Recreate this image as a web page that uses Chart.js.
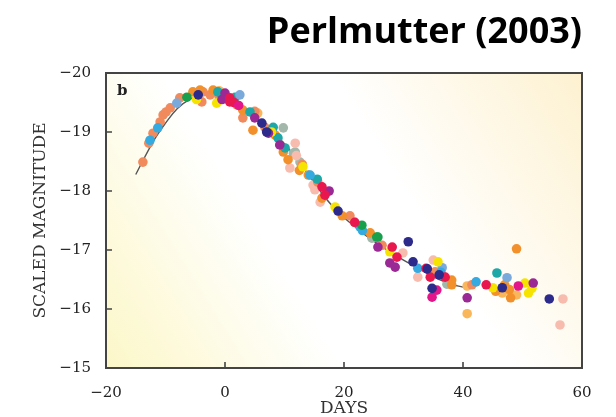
<!DOCTYPE html>
<html>
<head>
<meta charset="utf-8">
<script src="https://cdn.jsdelivr.net/npm/chart.js@4/dist/chart.umd.min.js"></script>
<style>
  html, body { margin: 0; padding: 0; background: #fff; }
  #wrap { width: 616px; height: 417px; }
</style>
</head>
<body>
<div id="wrap"><canvas id="c" width="616" height="417"></canvas></div>
<script>
// ── Данные ──────────────────────────────────────────────────────────────
const xTicks = [-20, 0, 20, 40, 60];
const yTicks = [-20, -19, -18, -17, -16, -15];

// шаблонная кривая блеска
const curveDays = [-15, -12, -10, -8, -6, -4, -2, 0, 2, 4, 6, 8, 10, 12, 14, 16, 18, 20, 22, 24, 26, 28, 30, 32, 34, 36, 38, 40];
const curveMags = [-18.28, -18.85, -19.15, -19.4, -19.55, -19.62, -19.62, -19.55, -19.45, -19.32, -19.17, -19.0, -18.8, -18.55, -18.28, -18.0, -17.75, -17.55, -17.38, -17.22, -17.08, -16.95, -16.83, -16.72, -16.6, -16.5, -16.42, -16.37];

// точки сверхновых, сгруппированы по цвету: [день, звёздная величина]
const salmonPts = [[-13.8, -18.49], [-12.8, -18.81], [-12.1, -18.98], [-10.9, -19.17], [-10.4, -19.29], [-9.9, -19.34], [-9.2, -19.41], [-7.6, -19.58], [-3.9, -19.51], [-2.5, -19.63], [-3.7, -19.68], [2, -19.46], [3, -19.24], [6.7, -19.08], [13, -18.45], [15.6, -18.15], [21, -17.58], [21.8, -17.47], [26.4, -17.08], [35.3, -16.63], [41.5, -16.41], [-1, -19.6], [1, -19.55], [5, -19.35]];
const orangePts = [[-5.4, -19.68], [-4.2, -19.71], [-2, -19.71], [3, -19.37], [4.7, -19.03], [8.4, -18.95], [9.8, -18.66], [10.6, -18.53], [12.5, -18.35], [14, -18.27], [16.3, -17.88], [19.7, -17.58], [24.4, -17.29], [38.1, -16.49], [38.1, -16.41], [47, -16.41], [47.8, -16.33], [48, -16.19], [49, -17.02], [45.5, -16.3]];
const lightOrangePts = [[5.5, -19.32], [40.7, -15.92], [40.7, -16.39], [46.6, -16.27], [49, -16.24], [-1, -19.7]];
const lightPinkPts = [[11.8, -18.81], [10.9, -18.39], [14.8, -18.1], [15.1, -18.02], [16, -17.81], [29.9, -16.95], [35, -16.83], [32.4, -16.54], [56.8, -16.17], [56.3, -15.73], [12, -18.6]];
const tealPts = [[-1.2, -19.68], [1.7, -19.59], [4.2, -19.34], [8.1, -19.08], [8.9, -18.9], [10.1, -18.73], [15.5, -18.2], [45.7, -16.61], [-0.5, -19.62]];
const navyPts = [[-4.5, -19.63], [6.2, -19.15], [19, -17.66], [30.8, -17.14], [31.6, -16.8], [34, -16.68], [34.8, -16.35], [36, -16.58], [46.6, -16.36], [54.5, -16.17], [7, -19.0]];
const magentaPts = [[0, -19.66], [5, -19.24], [7.3, -18.98], [9.2, -18.78], [17.5, -18.0], [25.7, -17.05], [27.7, -16.78], [28.6, -16.71], [40.7, -16.19], [51.8, -16.44], [-0.5, -19.55]];
const crimsonPts = [[0.8, -19.51], [0.8, -19.58], [16.3, -18.07], [16.8, -17.93], [21.8, -17.47], [28.1, -17.05], [28.9, -16.88], [33.8, -16.69], [34.5, -16.54], [37, -16.54], [43.9, -16.41], [1.5, -19.5]];
const hotPinkPts = [[34.8, -16.2], [35.6, -16.32], [49.3, -16.39], [2.3, -19.45]];
const yellowPts = [[-1.4, -19.49], [7.8, -19.0], [13.1, -18.41], [18.5, -17.73], [27.7, -16.97], [35.8, -16.8], [45, -16.36], [50.4, -16.44], [51, -16.27], [51.6, -16.35], [-4.8, -19.55]];
const bluePts = [[-12.6, -18.86], [-11.3, -19.07], [14.3, -18.27], [22.7, -17.39], [23.1, -17.33], [32.4, -16.69], [42.2, -16.46], [36.3, -16.62]];
const lightBluePts = [[-8.1, -19.49], [2.5, -19.63], [47.4, -16.53], [36.5, -16.7]];
const greenPts = [[-6.4, -19.59], [23, -17.42], [25.7, -17.22], [25.5, -17.22]];
const grayGreenPts = [[9.8, -19.07], [11.8, -18.66], [12.6, -18.49], [24.7, -17.2], [37.3, -16.42], [11.5, -18.64]];

// ── Оформление ──────────────────────────────────────────────────────────
const groups = [
  { pts: grayGreenPts,   color: '#a3b8ab' },
  { pts: lightPinkPts,   color: '#f8bcaf' },
  { pts: lightOrangePts, color: '#f9b65a' },
  { pts: salmonPts,      color: '#f18a5c' },
  { pts: orangePts,      color: '#f2902c' },
  { pts: tealPts,        color: '#1ea7a7' },
  { pts: lightBluePts,   color: '#7aa9dc' },
  { pts: bluePts,        color: '#35aae0' },
  { pts: greenPts,       color: '#18a04d' },
  { pts: yellowPts,      color: '#f6e400' },
  { pts: magentaPts,     color: '#9b2995' },
  { pts: crimsonPts,     color: '#e8184f' },
  { pts: hotPinkPts,     color: '#e2158a' },
  { pts: navyPts,        color: '#2c2a8a' },
];

const SERIF = "'DejaVu Serif', serif";
const minus = v => String(v).replace('-', '\u2212');

const datasets = groups.map((g, i) => ({
  type: 'scatter',
  data: g.pts.map(p => ({ x: p[0], y: p[1] })),
  backgroundColor: g.color,
  borderWidth: 0,
  pointRadius: 4.8,
  order: groups.length - i,
}));

datasets.push({
  type: 'line',
  data: curveDays.map((d, i) => ({ x: d, y: curveMags[i] })),
  borderColor: '#555',
  borderWidth: 1.4,
  pointRadius: 0,
  tension: 0.4,
  fill: false,
  order: 100,
});

// ── Фон-градиент, рамка, внутренние засечки и буква «b» ────────────────
const framePlugin = {
  id: 'frame',
  beforeDatasetsDraw(chart) {
    const { ctx, chartArea: { left, right, top, bottom } } = chart;
    ctx.save();
    const g = ctx.createLinearGradient(left, bottom, right, top);
    g.addColorStop(0,    '#fcf7c8');
    g.addColorStop(0.36, '#ffffff');
    g.addColorStop(0.62, '#ffffff');
    g.addColorStop(1,    '#fdf1d0');
    ctx.fillStyle = g;
    ctx.fillRect(left, top, right - left, bottom - top);
    ctx.restore();
  },
  afterDraw(chart) {
    const { ctx, chartArea: { left, right, top, bottom }, scales: { x, y } } = chart;
    ctx.save();
    ctx.strokeStyle = '#444';
    ctx.lineWidth = 2;
    ctx.strokeRect(left, top, right - left, bottom - top);
    ctx.lineWidth = 1.6;
    ctx.beginPath();
    yTicks.forEach(v => {
      const py = y.getPixelForValue(v);
      ctx.moveTo(left, py); ctx.lineTo(left + 6, py);
    });
    xTicks.forEach(v => {
      const px = x.getPixelForValue(v);
      ctx.moveTo(px, bottom); ctx.lineTo(px, bottom - 6);
    });
    ctx.stroke();
    ctx.fillStyle = '#222';
    ctx.font = `bold 15px ${SERIF}`;
    ctx.textBaseline = 'alphabetic';
    ctx.fillText('b', left + 11, top + 22);
    ctx.restore();
  },
};

new Chart(document.getElementById('c'), {
  data: { datasets },
  options: {
    responsive: false,
    animation: false,
    layout: { padding: { left: 0, right: 34, top: 0, bottom: 0 } },
    scales: {
      x: {
        type: 'linear',
        min: -20, max: 60,
        afterBuildTicks: s => { s.ticks = xTicks.map(v => ({ value: v })); },
        afterFit: s => { s.height = 49; },
        grid: { display: false },
        border: { display: false },
        ticks: { color: '#222', padding: 8, font: { family: SERIF, size: 15 }, callback: v => minus(v) },
        title: { display: true, text: 'DAYS', color: '#333', font: { family: SERIF, size: 17, lineHeight: 1 }, padding: { top: 0, bottom: 0 } },
      },
      y: {
        type: 'linear',
        reverse: true,
        min: -20, max: -15,
        afterBuildTicks: s => { s.ticks = yTicks.map(v => ({ value: v })); },
        afterFit: s => { s.width = 106; },
        grid: { display: false },
        border: { display: false },
        ticks: { color: '#222', padding: 7, font: { family: SERIF, size: 15 }, callback: v => minus(v) },
        title: { display: true, text: 'SCALED MAGNITUDE', color: '#333', font: { family: SERIF, size: 17, lineHeight: 1 }, padding: { top: 32, bottom: 0 } },
      },
    },
    plugins: {
      legend: { display: false },
      tooltip: { enabled: false },
      title: {
        display: true,
        text: 'Perlmutter (2003)',
        align: 'end',
        color: '#000',
        font: { family: "'Open Sans'", weight: 'bold', size: 36, lineHeight: 1 },
        padding: { top: 15, bottom: 22 },
      },
    },
  },
  plugins: [framePlugin],
});
</script>
</body>
</html>
